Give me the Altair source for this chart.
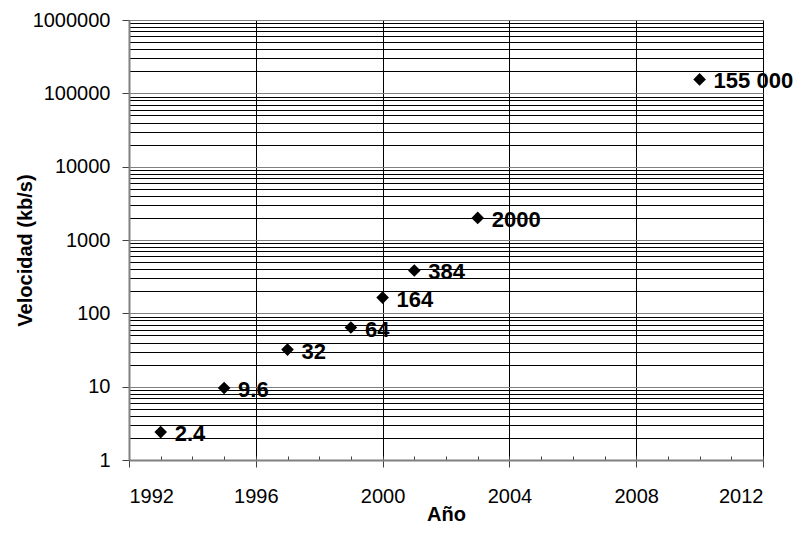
import altair as alt
import pandas as pd

years = [1993, 1995, 1997, 1999, 2000, 2001, 2003, 2010]
speeds = [2.4, 9.6, 32, 64, 164, 384, 2000, 155000]
labels = ["2.4", "9.6", "32", "64", "164", "384", "2000", "155 000"]

x_major = [1992, 1996, 2000, 2004, 2008, 2012]
x_minor = list(range(1992, 2013))
y_major = [1, 10, 100, 1000, 10000, 100000, 1000000]
y_all = [m * 10 ** k for k in range(6) for m in range(1, 10)] + [1000000]

df = pd.DataFrame({"year": years, "speed": speeds, "label": labels})
df_minor = pd.DataFrame({"year": x_minor})

major_test = "indexof([1,10,100,1000,10000,100000,1000000], datum.value) >= 0"

FONT = "Liberation Sans"

x_scale = alt.Scale(domain=[1992, 2012], nice=False, zero=False)
y_scale = alt.Scale(type="log", domain=[1, 1000000], nice=False)

x_enc = alt.X(
    "year:Q",
    scale=x_scale,
    axis=alt.Axis(
        orient="bottom",
        values=x_major,
        format="d",
        grid=True,
        gridColor="black",
        gridWidth=1,
        tickSize=7,
        tickColor="#404040",
        domainColor="#808080",
        domainWidth=2,
        labelFontSize=20,
        labelColor="black",
        labelPadding=35,
        labelBaseline="alphabetic",
        labelFont=FONT,
        title="Año",
        titleFontSize=20,
        titleFont=FONT,
        titleFontWeight="bold",
        titleColor="black",
        titleY=60,
        titleBaseline="alphabetic",
    ),
)

y_enc = alt.Y(
    "speed:Q",
    scale=y_scale,
    axis=alt.Axis(
        values=y_all,
        labelExpr=major_test + " ? format(datum.value, 'd') : ''",
        grid=True,
        gridColor={"condition": {"test": major_test, "value": "#808080"}, "value": "black"},
        gridWidth=1,
        tickSize=7,
        tickColor="#404040",
        tickOpacity={"condition": {"test": major_test, "value": 1}, "value": 0},
        domainColor="#808080",
        domainWidth=2,
        labelFontSize=20,
        labelColor="black",
        labelPadding=12,
        labelFont=FONT,
        title="Velocidad (kb/s)",
        titleFontSize=20,
        titleFont=FONT,
        titleFontWeight="bold",
        titleColor="black",
        titleX=-104,
        titleY=230,
        titleBaseline="middle",
    ),
)

minor_ticks = alt.Chart(df_minor).mark_point(opacity=0).encode(
    x=alt.X(
        "year:Q",
        scale=x_scale,
        axis=alt.Axis(
            values=x_minor,
            orient="bottom",
            labels=False,
            domain=False,
            grid=False,
            ticks=True,
            tickSize=4,
            tickColor="#404040",
            offset=-4,
            title=None,
        ),
    ),
    y=alt.value(0),
)

points = alt.Chart(df).mark_point(
    shape="diamond", filled=True, color="black", size=160, opacity=1
).encode(x=x_enc, y=y_enc)

texts = alt.Chart(df).mark_text(
    align="left", baseline="middle", dx=14, dy=2,
    fontSize=22, fontWeight="bold", font=FONT, color="black"
).encode(
    x=alt.X("year:Q", scale=x_scale, axis=None),
    y=alt.Y("speed:Q", scale=y_scale),
    text="label:N",
)

chart = (
    alt.layer(minor_ticks, points, texts)
    .resolve_axis(x="independent")
    .properties(
        width=634,
        height=440,
        autosize=alt.AutoSizeParams(type="none"),
        padding={"left": 121, "top": 12, "right": 32, "bottom": 66},
    )
    .configure_view(stroke="#808080", strokeWidth=2)
    .configure(font=FONT)
)

chart.save("out.html", embed_options={"renderer": "svg", "actions": False})
